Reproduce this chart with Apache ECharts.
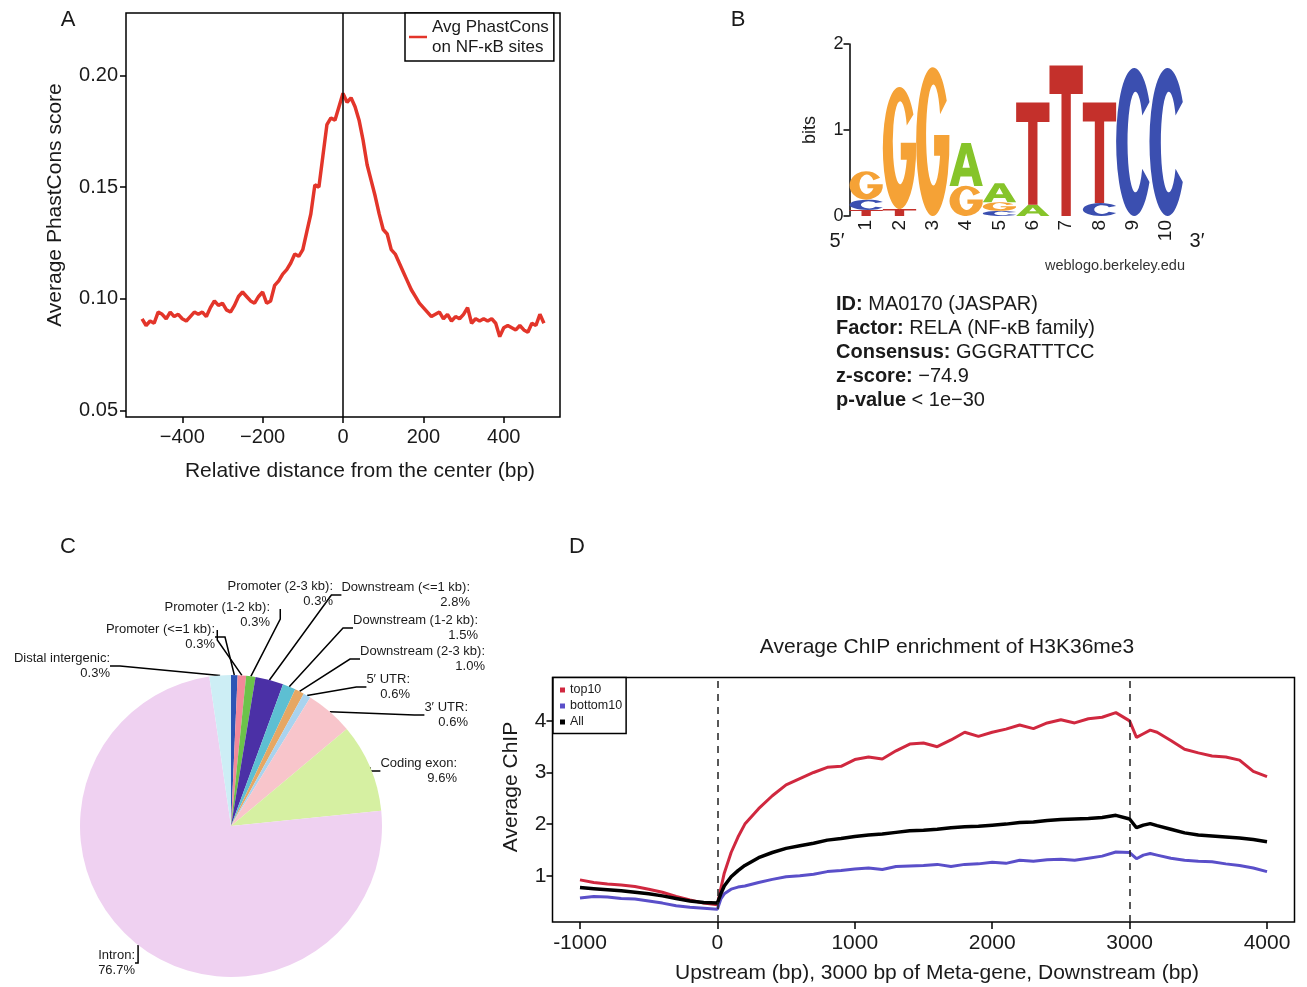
<!DOCTYPE html>
<html lang="en">
<head>
<meta charset="UTF-8">
<script src="https://cdn.jsdelivr.net/npm/echarts@6/dist/echarts.min.js"></script>
<title>NF-kB binding sites</title>
<style>body{margin:0;background:#fff;}</style>
</head>
<body>
<div id="main" style="width:1307px;height:987px;"></div>
<script type="text/javascript">
// ---- panel A: PhastCons around NF-kB sites
var phastX = [-500,-490,-480,-470,-460,-450,-440,-430,-420,-410,-400,-390,-380,-370,-360,-350,-340,-330,-320,-310,
  -300,-290,-280,-270,-260,-250,-240,-230,-220,-210,-200,-190,-180,-170,-160,-150,-140,-130,-120,-110,
  -100,-90,-80,-70,-60,-50,-40,-30,-20,-10,0,10,20,30,40,50,60,70,80,90,
  100,110,120,130,140,150,160,170,180,190,200,210,220,230,240,250,260,270,280,290,
  300,310,320,330,340,350,360,370,380,390,400,410,420,430,440,450,460,470,480,490,500];
var phastScore = [0.091,0.088,0.090,0.089,0.094,0.093,0.091,0.094,0.092,0.093,0.091,0.090,0.092,0.094,0.093,0.094,0.092,0.096,0.099,0.097,
  0.098,0.095,0.094,0.097,0.101,0.103,0.101,0.099,0.098,0.101,0.103,0.098,0.099,0.106,0.108,0.111,0.113,0.116,0.120,0.119,
  0.122,0.130,0.138,0.151,0.150,0.164,0.178,0.181,0.180,0.186,0.192,0.188,0.190,0.186,0.180,0.171,0.160,0.153,0.146,0.138,
  0.131,0.129,0.122,0.120,0.116,0.112,0.108,0.104,0.101,0.098,0.096,0.094,0.092,0.093,0.094,0.091,0.093,0.090,0.092,0.091,
  0.093,0.096,0.089,0.091,0.090,0.091,0.090,0.091,0.089,0.083,0.087,0.088,0.087,0.086,0.088,0.086,0.085,0.089,0.088,0.093,0.089];
var phastTicksX = [-400, -200, 0, 200, 400];
var phastTicksY = [0.05, 0.10, 0.15, 0.20];

// ---- panel B: sequence logo (letters stacked bottom -> top)
var logoPos = [1, 2, 3, 4, 5, 6, 7, 8, 9, 10];
var logoLetters = [['T','C','G'], ['T','G'], ['G'], ['G','A'], ['C','G','A'], ['A','T'], ['T'], ['C','T'], ['C'], ['C']];
var logoBits = [[0.07,0.12,0.33], [0.08,1.42], [1.73], [0.35,0.50], [0.06,0.10,0.22], [0.13,1.19], [1.75], [0.15,1.17], [1.72], [1.72]];

// ---- panel C: genomic distribution
var pieNames = ['Promoter (<=1 kb)', 'Promoter (1-2 kb)', 'Promoter (2-3 kb)', 'Downstream (<=1 kb)',
  'Downstream (1-2 kb)', 'Downstream (2-3 kb)', '5\u2032 UTR', '3\u2032 UTR', 'Coding exon', 'Intron', 'Distal intergenic'];
var pieValues = [0.7, 0.9, 1.0, 3.0, 1.4, 1.0, 0.8, 5.1, 9.5, 74.3, 2.3];
var pieLabels = ['0.3%', '0.3%', '0.3%', '2.8%', '1.5%', '1.0%', '0.6%', '0.6%', '9.6%', '76.7%', '0.3%'];

// ---- panel D: meta-gene H3K36me3
var chipX = [-1000,-900,-800,-700,-600,-500,-400,-300,-200,-100,0, 25,50,100,150,
  200,300,400,500,600,700,800,900,1000,1100,1200,1300,1400,1500,1600,1700,1800,1900,2000,2100,2200,2300,2400,2500,2600,2700,2800,2900,3000,
  3050,3100,3150, 3200,3300,3400,3500,3600,3700,3800,3900,4000];
var top10 = [0.92,0.87,0.84,0.82,0.79,0.74,0.68,0.60,0.53,0.47,0.44, 0.75,1.05,1.45,1.75,
  2.00,2.30,2.55,2.76,2.88,3.00,3.10,3.12,3.25,3.30,3.26,3.42,3.55,3.57,3.50,3.63,3.78,3.70,3.78,3.84,3.92,3.85,3.96,4.02,3.96,4.04,4.07,4.16,4.00,
  3.68,3.75,3.82, 3.78,3.62,3.45,3.38,3.32,3.30,3.24,3.02,2.92];
var bottom10 = [0.57,0.60,0.59,0.56,0.55,0.51,0.47,0.42,0.39,0.37,0.35, 0.55,0.65,0.74,0.78,
  0.80,0.87,0.93,0.98,1.00,1.03,1.08,1.10,1.13,1.15,1.12,1.18,1.19,1.20,1.22,1.18,1.22,1.23,1.26,1.24,1.30,1.28,1.31,1.32,1.30,1.34,1.38,1.46,1.45,
  1.33,1.40,1.43, 1.40,1.34,1.30,1.28,1.27,1.23,1.20,1.15,1.08];
var allGenes = [0.77,0.75,0.73,0.71,0.68,0.65,0.61,0.56,0.51,0.48,0.47, 0.65,0.80,0.98,1.10,
  1.20,1.35,1.45,1.53,1.58,1.63,1.69,1.72,1.76,1.79,1.81,1.84,1.87,1.88,1.90,1.93,1.95,1.96,1.98,2.00,2.03,2.04,2.07,2.09,2.10,2.11,2.13,2.17,2.10,
  1.93,1.98,2.01, 1.97,1.90,1.83,1.79,1.77,1.75,1.73,1.70,1.66];
var chipTicksX = [-1000, 0, 1000, 2000, 3000, 4000];
var chipTicksY = [1, 2, 3, 4];

// styles
var FONT = '"Liberation Sans", Arial, Helvetica, sans-serif';
var INK = '#1a1a1a';
var letterColors = { A: '#86C42A', C: '#3B4FB0', G: '#F5A236', T: '#C4302B' };
var letterPaths = {
  A: 'M0 100 L36 0 H64 L100 100 H74 L67 78 H33 L26 100 Z M39 58 H61 L50 24 Z',
  C: 'M92 23 A50 50 0 1 0 92 77 L72 68 A22 34 0 1 1 72 32 Z',
  G: 'M92 23 A50 50 0 1 0 100 46 H54 V60 H72 A22 34 0 1 1 72 32 Z',
  T: 'M0 0 H100 V19 H64 V100 H36 V19 H0 Z'
};
var pieColors = ['#2D55B5', '#F2899A', '#6CC34A', '#4B30A6', '#5DBFD2', '#E6A763', '#A9D3EE',
  '#F8C5CB', '#D6F0A2', '#EFD1F1', '#CDEEF5'];
// label anchor: [right edge x, centre y]
var pieLabelPos = [[215,637], [270,615], [333,594], [470,595], [478,628], [485,659],
  [410,687], [468,715], [457,771], [135,963], [110,666]];

var logoData = [];
logoLetters.forEach(function (letters, i) {
  var base = 0;
  letters.forEach(function (l, j) {
    logoData.push([logoPos[i], base, logoBits[i][j], 'ACGT'.indexOf(l)]);
    base += logoBits[i][j];
  });
});

function minus(v) { return String(v).replace('-', '\u2212'); }
function plain(v) { return String(v); }

function txt(x, y, text, size, opt) {
  opt = opt || {};
  return {
    type: 'text', x: x, y: y, rotation: opt.rot || 0, silent: true,
    style: {
      text: text, fontSize: size, fontFamily: FONT, fontWeight: opt.weight || 'normal',
      fill: opt.color || INK, align: opt.align || 'center', textAlign: opt.align || 'center',
      verticalAlign: 'middle', textVerticalAlign: 'middle', rich: opt.rich
    }
  };
}

var chart = echarts.init(document.getElementById('main'));
var axisLineStyle = { color: '#000', width: 1.5 };
var boldRich = { b: { fontWeight: 'bold', fontSize: 20, fontFamily: FONT, fill: INK } };

var option = {
  animation: false,
  backgroundColor: '#fff',
  textStyle: { fontFamily: FONT },
  grid: [
    { left: 126, top: 13, width: 434, height: 404, show: true, borderColor: '#000', borderWidth: 1.5, backgroundColor: 'transparent' },
    { left: 849.5, top: 44, width: 333.3, height: 172 },
    { left: 552.5, top: 677.5, width: 742, height: 244.5, show: true, borderColor: '#000', borderWidth: 1.5, backgroundColor: 'transparent' }
  ],
  xAxis: [
    { gridIndex: 0, type: 'value', min: -540, max: 540, splitLine: { show: false }, axisLine: { show: false, onZero: false },
      axisTick: { show: true, length: 6, lineStyle: axisLineStyle, customValues: phastTicksX },
      axisLabel: { customValues: phastTicksX, fontSize: 20, color: INK, margin: 10, formatter: minus } },
    { gridIndex: 1, type: 'value', min: 0.5, max: 10.5, splitLine: { show: false }, axisLine: { show: false, onZero: false },
      axisTick: { show: false },
      axisLabel: { customValues: logoPos, rotate: 90, fontSize: 19, color: INK, margin: 4 } },
    { gridIndex: 2, type: 'value', min: -1200, max: 4200, splitLine: { show: false }, axisLine: { show: false, onZero: false },
      axisTick: { show: true, length: 7, lineStyle: axisLineStyle, customValues: chipTicksX },
      axisLabel: { customValues: chipTicksX, fontSize: 21, color: INK, margin: 11, formatter: plain } }
  ],
  yAxis: [
    { gridIndex: 0, type: 'value', min: 0.047, max: 0.228, splitLine: { show: false }, axisLine: { show: false, onZero: false },
      axisTick: { show: true, length: 6, lineStyle: axisLineStyle, customValues: phastTicksY },
      axisLabel: { customValues: phastTicksY, fontSize: 20, color: INK, margin: 8, formatter: function (v) { return v.toFixed(2); } } },
    { gridIndex: 1, type: 'value', min: 0, max: 2, interval: 1, splitLine: { show: false },
      axisLine: { show: true, onZero: false, lineStyle: axisLineStyle },
      axisTick: { show: true, length: 6, lineStyle: axisLineStyle },
      axisLabel: { fontSize: 18, color: INK, margin: 6 } },
    { gridIndex: 2, type: 'value', min: 0.104, max: 4.84, splitLine: { show: false }, axisLine: { show: false, onZero: false },
      axisTick: { show: true, length: 6, lineStyle: axisLineStyle, customValues: chipTicksY },
      axisLabel: { customValues: chipTicksY, fontSize: 21, color: INK, margin: 6, formatter: plain } }
  ],
  legend: [
    { data: ['Avg PhastCons on NF-\u03baB sites'], left: 405, top: 13, orient: 'vertical',
      backgroundColor: '#fff', borderColor: '#000', borderWidth: 1.5, padding: [4, 5, 4, 4],
      icon: 'rect', itemWidth: 18, itemHeight: 2.5, selectedMode: false,
      textStyle: { fontSize: 17, lineHeight: 20, color: INK, fontFamily: FONT },
      formatter: function (n) { return n.replace(' on ', '\non '); } },
    { data: ['top10', 'bottom10', 'All'], left: 553, top: 677.5, orient: 'vertical',
      backgroundColor: '#fff', borderColor: '#000', borderWidth: 1.5, padding: [6, 4, 5, 7],
      icon: 'rect', itemWidth: 5, itemHeight: 5, itemGap: 3, selectedMode: false,
      textStyle: { fontSize: 12.5, lineHeight: 13, color: INK, fontFamily: FONT } }
  ],
  series: [
    { name: 'Avg PhastCons on NF-\u03baB sites', type: 'line', xAxisIndex: 0, yAxisIndex: 0,
      data: phastX.map(function (x, i) { return [x, phastScore[i]]; }),
      showSymbol: false, color: '#E3352A', lineStyle: { width: 3.5, color: '#E3352A' },
      markLine: { silent: true, symbol: 'none', label: { show: false },
        lineStyle: { color: '#000', width: 1.5, type: 'solid' }, data: [{ xAxis: 0 }] } },
    { type: 'custom', xAxisIndex: 1, yAxisIndex: 1, data: logoData, silent: true,
      renderItem: function (params, api) {
        var p = api.value(0), y0 = api.value(1), h = api.value(2), l = 'ACGT'.charAt(api.value(3));
        var a = api.coord([p - 0.5, y0 + h]);
        var b = api.coord([p + 0.5, y0]);
        return { type: 'path',
          shape: { pathData: letterPaths[l], x: a[0], y: a[1], width: b[0] - a[0], height: b[1] - a[1], layout: 'cover' },
          style: { fill: letterColors[l] } };
      } },
    { type: 'pie', center: [231, 826], radius: 151, startAngle: 90, clockwise: true, silent: true,
      avoidLabelOverlap: false,
      data: pieNames.map(function (n, i) { return { name: n, value: pieValues[i], itemStyle: { color: pieColors[i] } }; }),
      label: { show: true, position: 'outside', fontSize: 13, lineHeight: 15, color: INK, fontFamily: FONT, align: 'right',
        formatter: function (p) { return pieNames[p.dataIndex] + ':\n' + pieLabels[p.dataIndex]; } },
      labelLine: { show: true, length: 10, length2: 10, lineStyle: { color: '#000', width: 1.5 } },
      labelLayout: function (p) {
        var q = pieLabelPos[p.dataIndex];
        return { x: q[0], y: q[1], align: 'right', verticalAlign: 'middle' };
      } },
    { name: 'top10', type: 'line', xAxisIndex: 2, yAxisIndex: 2, showSymbol: false, color: '#D0283F',
      lineStyle: { width: 3, color: '#D0283F' }, data: chipX.map(function (x, i) { return [x, top10[i]]; }),
      markLine: { silent: true, symbol: 'none', label: { show: false },
        lineStyle: { color: '#222', width: 1.5, type: [7, 6] }, data: [{ xAxis: 0 }, { xAxis: 3000 }] } },
    { name: 'bottom10', type: 'line', xAxisIndex: 2, yAxisIndex: 2, showSymbol: false, color: '#5A4FC9',
      lineStyle: { width: 3, color: '#5A4FC9' }, data: chipX.map(function (x, i) { return [x, bottom10[i]]; }) },
    { name: 'All', type: 'line', xAxisIndex: 2, yAxisIndex: 2, showSymbol: false, color: '#000',
      lineStyle: { width: 3.5, color: '#000' }, data: chipX.map(function (x, i) { return [x, allGenes[i]]; }) }
  ],
  graphic: [
    txt(68, 20, 'A', 22), txt(738, 20, 'B', 22), txt(68, 547, 'C', 22), txt(577, 547, 'D', 22),
    txt(360, 471, 'Relative distance from the center (bp)', 21),
    txt(55, 205, 'Average PhastCons score', 21, { rot: Math.PI / 2 }),
    txt(810, 130, 'bits', 18, { rot: Math.PI / 2 }),
    txt(837, 241, '5\u2032', 20), txt(1197, 241, '3\u2032', 20),
    txt(1115, 266, 'weblogo.berkeley.edu', 14.5, { color: '#333' }),
    txt(836, 304, '{b|ID:} MA0170 (JASPAR)', 20, { align: 'left', rich: boldRich }),
    txt(836, 328, '{b|Factor:} RELA (NF-\u03baB family)', 20, { align: 'left', rich: boldRich }),
    txt(836, 352, '{b|Consensus:} GGGRATTTCC', 20, { align: 'left', rich: boldRich }),
    txt(836, 376, '{b|z-score:} \u221274.9', 20, { align: 'left', rich: boldRich }),
    txt(836, 400, '{b|p-value} < 1e\u221230', 20, { align: 'left', rich: boldRich }),
    txt(947, 647, 'Average ChIP enrichment of H3K36me3', 21),
    txt(937, 973, 'Upstream (bp), 3000 bp of Meta-gene, Downstream (bp)', 21),
    txt(511, 787, 'Average ChIP', 21, { rot: Math.PI / 2 })
  ]
};
chart.setOption(option);
</script>
</body>
</html>
